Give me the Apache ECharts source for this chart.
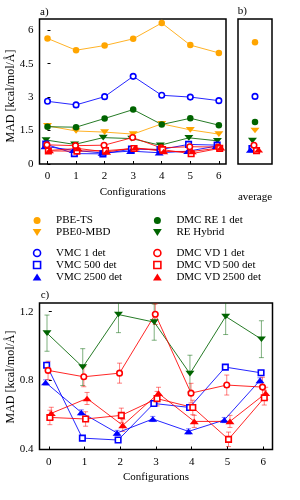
<!DOCTYPE html>
<html><head><meta charset="utf-8">
<script src="https://cdn.jsdelivr.net/npm/echarts@6/dist/echarts.min.js"></script>
<style>html,body{margin:0;padding:0;background:#fff}#c{width:300px;height:500px}</style>
</head><body><div id="c"></div>
<script>
// ---------- data ----------
const configs = [0, 1, 2, 3, 4, 5, 6];
const xTicks = [0, 1, 2, 3, 4, 5, 6];
const yTicksA = [0, 1.5, 3, 4.5, 6];
const yTicksC = [0.4, 0.8, 1.2];

const pbeTS     = [5.63, 5.10, 5.31, 5.61, 6.32, 5.33, 4.98];
const pbe0MBD   = [1.71, 1.48, 1.43, 1.34, 1.80, 1.53, 1.34];
const dmcRE1    = [1.67, 1.65, 2.04, 2.44, 1.77, 2.05, 1.74];
const reHybrid  = [1.075, 0.878, 1.183, 1.139, 0.840, 1.172, 1.040];
const vmc1      = [2.81, 2.65, 3.02, 3.93, 3.08, 3.00, 2.84];
const vmc500    = [0.889, 0.466, 0.455, 0.667, 0.644, 0.878, 0.845];
const vmc2500   = [0.789, 0.615, 0.496, 0.577, 0.505, 0.571, 0.801];
const dmcVD1    = [0.859, 0.822, 0.843, 1.185, 0.727, 0.774, 0.762];
const dmcVD500  = [0.586, 0.577, 0.598, 0.695, 0.644, 0.459, 0.700];
const dmcVD2500 = [0.610, 0.696, 0.540, 0.726, 0.563, 0.563, 0.726];

const errReHybrid  = [0.105, 0.107, 0.105, 0.105, 0.107, 0.105, 0.107];
const errVmc500    = [0.012, 0.012, 0.012, 0.012, 0.012, 0.012, 0.012];
const errVmc2500   = [0.015, 0.015, 0.015, 0.015, 0.015, 0.015, 0.015];
const errDmcVD1    = [0.053, 0.058, 0.058, 0.060, 0.057, 0.058, 0.057];
const errDmcVD500  = [0.042, 0.042, 0.042, 0.042, 0.042, 0.042, 0.042];
const errDmcVD2500 = [0.035, 0.035, 0.035, 0.035, 0.035, 0.035, 0.035];

const avgNames  = ['PBE-TS', 'PBE0-MBD', 'DMC RE 1 det', 'RE Hybrid', 'VMC 1 det', 'VMC 500 det', 'VMC 2500 det', 'DMC VD 1 det', 'DMC VD 500 det', 'DMC VD 2500 det'];
const avgValues = [5.46, 1.50, 1.88, 1.05, 3.03, 0.69, 0.63, 0.84, 0.60, 0.64];

const yName = 'MAD [kcal/mol/Å]';

// ---------- styles ----------
const FONT = 'Liberation Serif';
const ORANGE = '#FFA500', GREEN = '#006400', BLUE = '#0000FF', RED = '#FF0000';
const DOWN = 'path://M0,0L10,0L5,8Z';
const UP = 'path://M5,0L10,8L0,8Z';
const SQUARE = 'path://M0,0L10,0L10,10L0,10Z';
const style = {
  'PBE-TS':          {color: ORANGE, symbol: 'circle', size: 6.5, hollow: false, off: 0},
  'PBE0-MBD':        {color: ORANGE, symbol: DOWN, size: [9, 7], hollow: false, off: 0},
  'DMC RE 1 det':    {color: GREEN, symbol: 'circle', size: 6.5, hollow: false, off: 0},
  'RE Hybrid':       {color: GREEN, symbol: DOWN, size: [9, 7], hollow: false, off: -0.05},
  'VMC 1 det':       {color: BLUE, symbol: 'circle', size: 5.5, hollow: true, off: 0},
  'VMC 500 det':     {color: BLUE, symbol: SQUARE, size: 5.5, hollow: true, off: -0.06},
  'VMC 2500 det':    {color: BLUE, symbol: UP, size: [9, 7], hollow: false, off: -0.09},
  'DMC VD 1 det':    {color: RED, symbol: 'circle', size: 5.5, hollow: true, off: -0.02},
  'DMC VD 500 det':  {color: RED, symbol: SQUARE, size: 5.5, hollow: true, off: 0.03},
  'DMC VD 2500 det': {color: RED, symbol: UP, size: [9, 7], hollow: false, off: 0.07}
};
function itemStyleOf(s) {
  return s.hollow ? {color: '#fff', borderColor: s.color, borderWidth: 1.6, opacity: 1}
                  : {color: s.color, opacity: 1};
}
function lineSeries(name, values, xi, yi) {
  const s = style[name];
  return {
    name, type: 'line', xAxisIndex: xi, yAxisIndex: yi,
    data: values.map((v, i) => [configs[i] + s.off, v]),
    symbol: s.symbol, symbolSize: s.size, showSymbol: true, symbolKeepAspect: true,
    itemStyle: itemStyleOf(s),
    lineStyle: {color: s.color, width: 1, opacity: 0.85},
    z: 3, animation: false
  };
}
function errSeries(name, values, errs, xi, yi) {
  const s = style[name];
  const col = s.color;
  return {
    name: name + ' err', type: 'custom', xAxisIndex: xi, yAxisIndex: yi, clip: true,
    data: values.map((v, i) => [configs[i] + s.off, v - errs[i], v + errs[i]]),
    renderItem: function (params, api) {
      const x = api.value(0);
      const p1 = api.coord([x, api.value(1)]);
      const p2 = api.coord([x, api.value(2)]);
      const cap = 2.5;
      const st = {stroke: col, lineWidth: 1, opacity: 0.5};
      return {type: 'group', children: [
        {type: 'line', shape: {x1: p1[0], y1: p1[1], x2: p2[0], y2: p2[1]}, style: st},
        {type: 'line', shape: {x1: p1[0] - cap, y1: p1[1], x2: p1[0] + cap, y2: p1[1]}, style: st},
        {type: 'line', shape: {x1: p2[0] - cap, y1: p2[1], x2: p2[0] + cap, y2: p2[1]}, style: st}
      ]};
    },
    z: 2, animation: false
  };
}
function legendItem(name) {
  const s = style[name];
  return {name, icon: s.symbol, itemStyle: itemStyleOf(s)};
}
function legend(names, left, top) {
  return {
    data: names.map(legendItem), orient: 'vertical', left, top,
    itemWidth: 28, itemHeight: 7, itemGap: 1, selectedMode: false,
    textStyle: {fontFamily: FONT, fontSize: 11, color: '#000', lineHeight: 11}
  };
}
function tickFormatter(ticks, digits) {
  return v => ticks.some(t => Math.abs(t - v) < 1e-9) ? (digits == null ? String(v) : v.toFixed(digits)) : '';
}
const axisLabelStyle = {fontFamily: FONT, fontSize: 11, color: '#000'};
const nameStyle = {fontFamily: FONT, fontSize: 11, color: '#000'};

const chart = echarts.init(document.getElementById('c'), null, {renderer: 'canvas'});
const gridStyle = {show: true, borderColor: '#000', borderWidth: 1.5, backgroundColor: 'transparent', containLabel: false, outerBoundsMode: 'none'};
const series = [];
// panel a
[['PBE-TS', pbeTS], ['PBE0-MBD', pbe0MBD], ['DMC RE 1 det', dmcRE1], ['RE Hybrid', reHybrid], ['VMC 1 det', vmc1],
 ['VMC 500 det', vmc500], ['VMC 2500 det', vmc2500], ['DMC VD 1 det', dmcVD1], ['DMC VD 500 det', dmcVD500], ['DMC VD 2500 det', dmcVD2500]]
  .forEach(([n, v]) => series.push(lineSeries(n, v, 0, 0)));
// panel b
avgNames.forEach((n, i) => {
  const s = style[n];
  series.push({name: n, type: 'scatter', xAxisIndex: 1, yAxisIndex: 1, data: [[s.off * 1.5, avgValues[i]]],
    symbol: s.symbol, symbolSize: s.size, symbolKeepAspect: true, itemStyle: itemStyleOf(s), z: 3, animation: false});
});
// panel c
[['RE Hybrid', reHybrid, errReHybrid], ['VMC 500 det', vmc500, errVmc500], ['VMC 2500 det', vmc2500, errVmc2500],
 ['DMC VD 1 det', dmcVD1, errDmcVD1], ['DMC VD 500 det', dmcVD500, errDmcVD500], ['DMC VD 2500 det', dmcVD2500, errDmcVD2500]]
  .forEach(([n, v, e]) => { series.push(errSeries(n, v, e, 2, 2)); series.push(lineSeries(n, v, 2, 2)); });

chart.setOption({
  animation: false,
  backgroundColor: '#fff',
  grid: [
    Object.assign({left: 39.5, top: 19, width: 186.5, height: 145, z: 0}, gridStyle),
    Object.assign({left: 238, top: 19, width: 34, height: 145, z: 0}, gridStyle),
    Object.assign({left: 39.5, top: 303, width: 233, height: 146.5, z: 0}, gridStyle)
  ],
  xAxis: [
    {type: 'value', gridIndex: 0, z: 10, min: -0.28, max: 6.25, splitLine: {show: false}, axisLine: {show: false},
     axisTick: {show: true, inside: true, length: 3, customValues: xTicks, lineStyle: {color: '#000'}},
     axisLabel: {customValues: xTicks, margin: 7, ...axisLabelStyle},
     name: 'Configurations', nameLocation: 'middle', nameGap: 23, nameTextStyle: nameStyle, nameMoveOverlap: false},
    {type: 'value', gridIndex: 1, z: 10, min: -0.5, max: 0.5, splitLine: {show: false}, axisLine: {show: false},
     axisTick: {show: false}, axisLabel: {show: false},
     name: 'average', nameLocation: 'middle', nameGap: 28, nameTextStyle: nameStyle, nameMoveOverlap: false},
    {type: 'value', gridIndex: 2, z: 10, min: -0.26, max: 6.26, splitLine: {show: false}, axisLine: {show: false},
     axisTick: {show: true, inside: true, length: 3, customValues: xTicks, lineStyle: {color: '#000'}},
     axisLabel: {customValues: xTicks, margin: 7, ...axisLabelStyle},
     name: 'Configurations', nameLocation: 'middle', nameGap: 22, nameTextStyle: nameStyle, nameMoveOverlap: false}
  ],
  yAxis: [
    {type: 'value', gridIndex: 0, z: 10, min: 0, max: 6.5, interval: 1.5, splitLine: {show: false}, axisLine: {show: false},
     axisTick: {show: true, inside: true, length: 3, lineStyle: {color: '#000'}},
     axisLabel: {margin: 6, showMaxLabel: false, formatter: tickFormatter(yTicksA), ...axisLabelStyle}},
    {type: 'value', gridIndex: 1, z: 10, min: 0, max: 6.5, splitLine: {show: false}, axisLine: {show: false},
     axisTick: {show: false}, axisLabel: {show: false}},
    {type: 'value', gridIndex: 2, z: 10, min: 0.4, max: 1.25, interval: 0.4, splitLine: {show: false}, axisLine: {show: false},
     axisTick: {show: true, inside: true, length: 3, lineStyle: {color: '#000'}},
     axisLabel: {margin: 6, showMaxLabel: false, formatter: tickFormatter(yTicksC, 1), ...axisLabelStyle}}
  ],
  legend: [
    legend(['PBE-TS', 'PBE0-MBD'], 27.7, 210),
    legend(['DMC RE 1 det', 'RE Hybrid'], 148, 210),
    legend(['VMC 1 det', 'VMC 500 det', 'VMC 2500 det'], 27.7, 242.5),
    legend(['DMC VD 1 det', 'DMC VD 500 det', 'DMC VD 2500 det'], 148, 242.5)
  ],
  graphic: [
    {type: 'text', z: 1, left: 40, top: 7, style: {text: 'a)', font: '11px "Liberation Serif"', fill: '#000'}},
    {type: 'text', z: 1, left: 237.7, top: 6, style: {text: 'b)', font: '11px "Liberation Serif"', fill: '#000'}},
    {type: 'text', z: 1, left: 40.7, top: 289.5, style: {text: 'c)', font: '11px "Liberation Serif"', fill: '#000'}},
    {type: 'text', z: 1, x: 11, y: 96, rotation: Math.PI / 2,
     style: {text: yName, font: '12px "Liberation Serif"', fill: '#000', align: 'center', verticalAlign: 'middle'}},
    {type: 'text', z: 1, x: 11, y: 377, rotation: Math.PI / 2,
     style: {text: yName, font: '12px "Liberation Serif"', fill: '#000', align: 'center', verticalAlign: 'middle'}}
  ],
  series
});
</script></body></html>
